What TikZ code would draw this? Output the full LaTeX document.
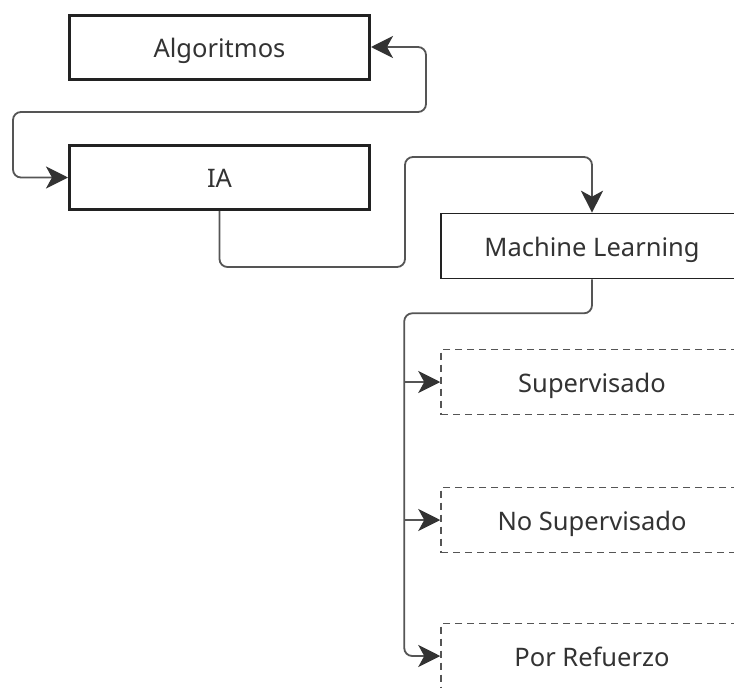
\documentclass[tikz,border=0pt]{standalone}
\usepackage{fontspec}
\setmainfont{Noto Sans}
\usetikzlibrary{arrows.meta}
\definecolor{txt}{HTML}{333333}
\definecolor{edge}{HTML}{222222}
\definecolor{wire}{HTML}{555555}
\definecolor{tipc}{HTML}{333333}
\tikzset{
  boxbase/.style={minimum width=300pt, minimum height=64pt, inner sep=0pt, text height=20pt, text depth=0pt, text=txt, font=\fontsize{25.5}{30}\selectfont},
  thickbox/.style={boxbase, draw=edge, line width=3pt},
  thinbox/.style={boxbase, draw=edge, line width=1.6pt, minimum width=302pt, minimum height=65pt},
  dashbox/.style={boxbase, draw=wire, line width=1.5pt, dash pattern=on 7pt off 5pt, minimum width=302pt, minimum height=65pt},
  conn/.style={draw=wire, line width=1.8pt, rounded corners=8pt},
  tipend/.style={-{Stealth[length=22pt,width=22pt,inset=6pt,color=tipc]}},
  tipboth/.style={{Stealth[length=22pt,width=22pt,inset=6pt,color=tipc]}-{Stealth[length=22pt,width=22pt,inset=6pt,color=tipc]}}
}
\begin{document}
\begin{tikzpicture}[x=1pt,y=-1pt]
\useasboundingbox (0,0) rectangle (734,688);
\clip (0,0) rectangle (734,688);
\fill[white] (0,0) rectangle (734,688);

\node[thickbox] (alg) at (219.5,47) {Algoritmos};
\node[thickbox] (ia) at (219.5,177.5) {IA};
\node[thinbox] (ml) at (592,246) {Machine Learning};
\node[dashbox] (sup) at (592,382) {Supervisado};
\node[dashbox] (nosup) at (592,520) {No Supervisado};
\node[dashbox] (pr) at (592,656) {Por Refuerzo};

\draw[conn, tipboth] (alg.east) -- ++(55,0) -- ++(0,65) -| ([xshift=-55pt]ia.west) -- (ia.west);
\draw[conn, tipend] (ia.south) |- (405,267) -- (405,157) -| (ml.north);
\draw[conn, tipend] (ml.south) -- ++(0,34) -| ([xshift=-36pt]pr.west) -- (pr.west);
\draw[conn, tipend] ([xshift=-36pt]sup.west) -- (sup.west);
\draw[conn, tipend] ([xshift=-36pt]nosup.west) -- (nosup.west);
\end{tikzpicture}
\end{document}
